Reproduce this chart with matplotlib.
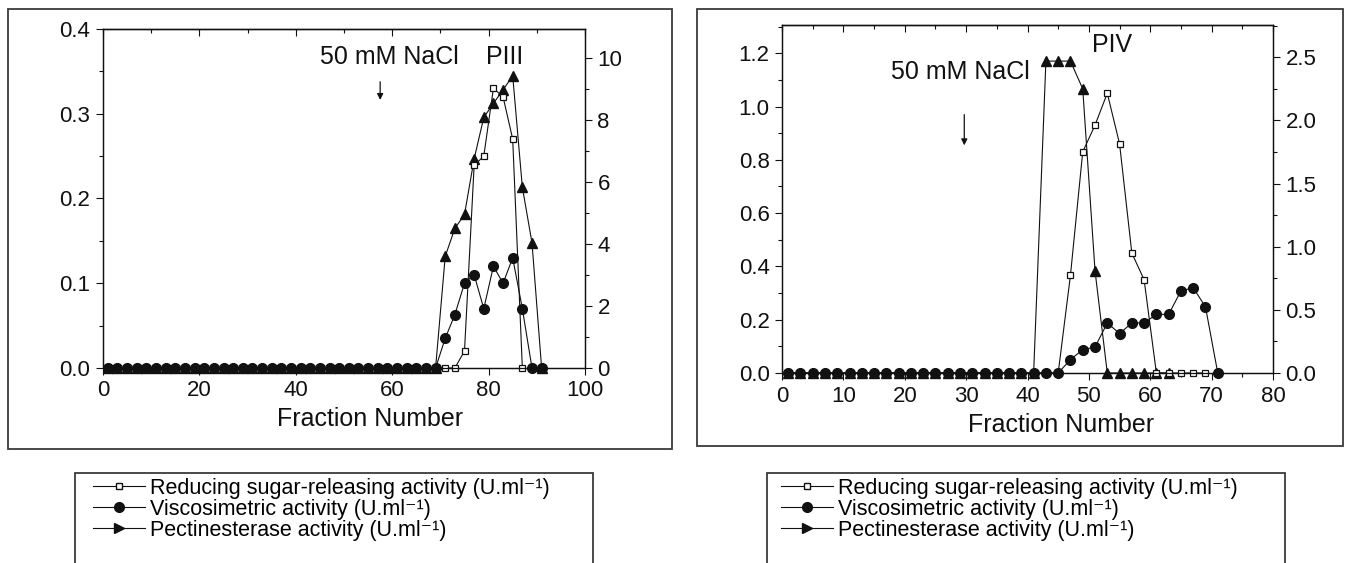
import matplotlib.pyplot as plt
from matplotlib.lines import Line2D
from matplotlib.patches import Rectangle
from matplotlib.ticker import MultipleLocator

plt.rcParams['font.family'] = ['Liberation Sans', 'DejaVu Sans']

W, H = 1353, 563

# PIII (left panel), fractions 1..91 every second tube
frac_piii = list(range(1, 92, 2))
zeros_piii = [0.0] * 35  # fractions 1-69
red_piii = zeros_piii + [0.0, 0.0, 0.02, 0.239, 0.25, 0.33, 0.32, 0.27, 0.0]
visc_piii = zeros_piii + [0.035, 0.063, 0.10, 0.11, 0.07, 0.12, 0.10, 0.13, 0.07, 0.0, 0.0]
pect_piii = zeros_piii + [3.6, 4.5, 4.95, 6.74, 8.08, 8.53, 8.97, 9.42, 5.83, 4.04, 0.0]

# PIV (right panel), fractions 1..71
frac_piv = list(range(1, 72, 2))
red_piv = [0.0] * 23 + [0.367, 0.83, 0.93, 1.05, 0.86, 0.45, 0.35, 0.0, 0.0, 0.0, 0.0, 0.0]
visc_piv = [0.0] * 23 + [0.05, 0.088, 0.097, 0.188, 0.148, 0.188, 0.188, 0.22, 0.22, 0.308, 0.32, 0.248, 0.0]
pect_piv = [0.0] * 21 + [2.47, 2.47, 2.47, 2.25, 0.81, 0.0, 0.0, 0.0, 0.0, 0.0, 0.0]

labels = ['Reducing sugar-releasing activity (U.ml\u207b\u00b9)',
          'Viscosimetric activity (U.ml\u207b\u00b9)',
          'Pectinesterase activity (U.ml\u207b\u00b9)']

INK = '#111111'
EDGE = '#3a3a3a'


def fx(px):
    return px / W


def fy(py):
    return 1 - py / H


def box(x0, y0, x1, y1):
    fig.add_artist(Rectangle((fx(x0), fy(y1)), fx(x1) - fx(x0), fy(y0) - fy(y1),
                             transform=fig.transFigure, fill=False, lw=1.3, ec=EDGE))


def panel(rect, frac, red, visc, pect, xmax, xstep, ltop, lstep, rtop, rstep, xlab_pos):
    # pectinesterase goes on the host axes so it sits under the other two
    ax_p = fig.add_axes(rect)
    ax_a = ax_p.twinx()
    ax_p.yaxis.tick_right()
    ax_a.yaxis.tick_left()

    ax_p.plot(frac[:len(pect)], pect, color=INK, lw=0.8, marker='^', ms=6.5,
              mfc=INK, mec=INK, clip_on=False)
    ax_a.plot(frac[:len(red)], red, color=INK, lw=0.8, marker='s', ms=5,
              mfc='white', mec=INK, mew=0.9, clip_on=False)
    ax_a.plot(frac[:len(visc)], visc, color=INK, lw=0.8, marker='o', ms=7,
              mfc=INK, mec=INK, clip_on=False)

    ax_p.set_xlim(0, xmax)
    ax_p.set_ylim(0, rtop)
    ax_a.set_ylim(0, ltop)

    ax_p.xaxis.set_major_locator(MultipleLocator(xstep))
    ax_p.xaxis.set_minor_locator(MultipleLocator(xstep / 2))
    ax_p.yaxis.set_major_locator(MultipleLocator(rstep))
    ax_p.yaxis.set_minor_locator(MultipleLocator(rstep / 2))
    ax_a.yaxis.set_major_locator(MultipleLocator(lstep))
    ax_a.yaxis.set_minor_locator(MultipleLocator(lstep / 2))

    for a in (ax_p, ax_a):
        a.tick_params(which='both', direction='out', width=0.8, colors=INK,
                      labelsize=16, pad=4)
        a.tick_params(which='major', length=5)
        a.tick_params(which='minor', length=3)
        for s in a.spines.values():
            s.set_linewidth(0.9)
            s.set_color(INK)

    top = ax_p.secondary_xaxis('top')
    top.xaxis.set_major_locator(MultipleLocator(xstep))
    top.xaxis.set_minor_locator(MultipleLocator(xstep / 2))
    top.tick_params(axis='x', which='both', direction='in', labeltop=False,
                    width=0.8, colors=INK)
    top.tick_params(which='major', length=5)
    top.tick_params(which='minor', length=3)
    top.spines['top'].set_linewidth(0.9)

    ax_p.set_xlabel('Fraction Number', fontsize=18, color=INK)
    ax_p.xaxis.label.set_va('center')
    ax_p.xaxis.set_label_coords(*xlab_pos)
    return ax_a


fig = plt.figure(figsize=(W / 100, H / 100), dpi=100)

# left panel (PIII)
box(8, 9, 672, 449)
ax1 = panel([fx(103), fy(368), (585 - 103) / W, (368 - 29) / H],
            frac_piii, red_piii, visc_piii, pect_piii,
            100, 20, 0.4, 0.1, 10.93, 2, (0.554, -0.150))
ax1.text(59.5, 0.367, '50 mM NaCl', fontsize=18, color=INK, ha='center', va='center')
ax1.text(83.3, 0.367, 'PIII', fontsize=18, color=INK, ha='center', va='center')
ax1.annotate('', xy=(57.5, 0.313), xytext=(57.5, 0.341),
             arrowprops=dict(arrowstyle='-|>', color=INK, lw=0.9, mutation_scale=9))

# right panel (PIV)
box(697, 9, 1343, 446)
ax2 = panel([fx(782), fy(373), (1273 - 782) / W, (373 - 25) / H],
            frac_piv, red_piv, visc_piv, pect_piv,
            80, 10, 1.306, 0.2, 2.756, 0.5, (0.568, -0.149))
ax2.text(29.0, 1.13, '50 mM NaCl', fontsize=18, color=INK, ha='center', va='center')
ax2.text(53.8, 1.232, 'PIV', fontsize=18, color=INK, ha='center', va='center')
ax2.annotate('', xy=(29.7, 0.844), xytext=(29.7, 0.98),
             arrowprops=dict(arrowstyle='-|>', color=INK, lw=0.9, mutation_scale=9))

# legends (box runs off the bottom edge as in the source)
handles = [Line2D([], [], color=INK, lw=0.8, marker='s', ms=5, mfc='white', mec=INK),
           Line2D([], [], color=INK, lw=0.8, marker='o', ms=7, mfc=INK, mec=INK),
           Line2D([], [], color=INK, lw=0.8, marker='>', ms=7, mfc=INK, mec=INK)]

for bx, lx in ((75, 93), (767, 781)):
    box(bx, 473, bx + 518, 620)
    fig.legend(handles, labels, loc='upper left', bbox_to_anchor=(fx(lx), fy(478)),
               frameon=False, borderpad=0, borderaxespad=0, fontsize=15.5,
               handlelength=2.4, handletextpad=0.25, labelspacing=0.0)

fig.savefig('out.png', dpi=100)
